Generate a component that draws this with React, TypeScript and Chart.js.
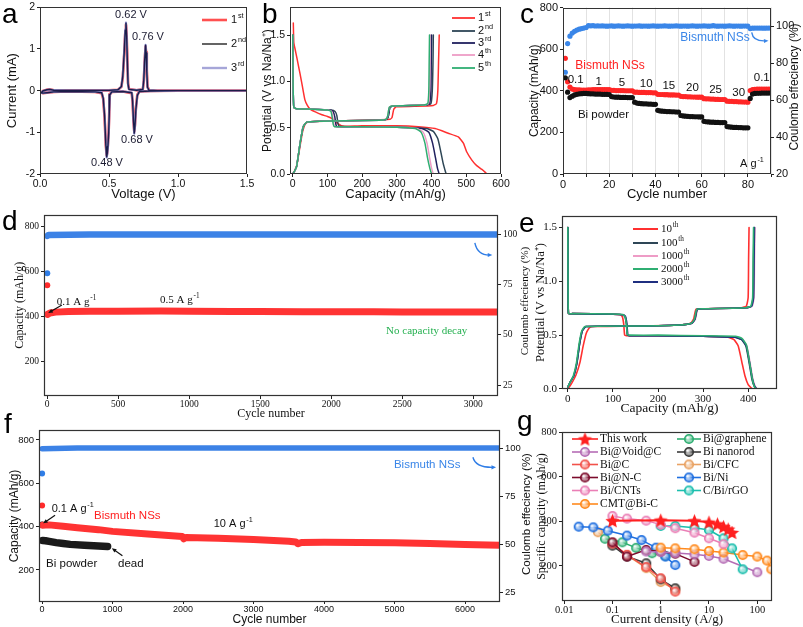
import React, { useEffect, useRef } from "react";
import { Chart, registerables } from "chart.js";
Chart.register(...registerables);

const SANS = "Arial, 'Liberation Sans', sans-serif";
const SERIF = "'Times New Roman', 'Liberation Serif', serif";

// ---------------- Panel a : CV ----------------
const cvVoltage = [1.5, 1.0, 0.80, 0.72, 0.705, 0.695, 0.688, 0.683, 0.677, 0.671, 0.665, 0.60, 0.52, 0.506, 0.502, 0.498, 0.492, 0.487, 0.483, 0.477, 0.468, 0.458, 0.447, 0.40, 0.20, 0.10, 0.05, 0.02, 0.01, 0.02, 0.05, 0.07, 0.10, 0.20, 0.50, 0.565, 0.59, 0.60, 0.61, 0.618, 0.623, 0.628, 0.633, 0.638, 0.645, 0.70, 0.745, 0.752, 0.758, 0.765, 0.769, 0.774, 0.779, 0.79, 0.85, 1.5];
const cvCurrent1st = [0, 0, -0.01, -0.02, -0.1, -0.42, -0.82, -0.98, -0.72, -0.28, -0.06, -0.02, -0.03, -0.09, -0.5, -0.95, -1.3, -1.49, -1.55, -1.32, -0.65, -0.2, -0.06, -0.03, -0.02, -0.03, -0.05, -0.06, -0.05, -0.01, 0.02, 0.03, 0.01, 0.005, 0.005, 0.02, 0.09, 0.32, 0.85, 1.4, 1.58, 1.32, 0.75, 0.18, 0.04, 0.01, 0.03, 0.22, 0.66, 1.06, 0.92, 0.5, 0.1, 0.01, 0, 0];
const cvCurrent2nd = [0, 0, -0.01, -0.02, -0.12, -0.45, -0.85, -1.02, -0.7, -0.25, -0.05, -0.02, -0.03, -0.1, -0.55, -1.0, -1.35, -1.52, -1.59, -1.3, -0.6, -0.18, -0.05, -0.03, -0.02, -0.03, -0.05, -0.06, -0.05, -0.01, 0.02, 0.03, 0.01, 0.005, 0.005, 0.02, 0.1, 0.35, 0.9, 1.45, 1.62, 1.3, 0.7, 0.15, 0.03, 0.01, 0.03, 0.25, 0.7, 1.09, 0.9, 0.45, 0.08, 0.01, 0, 0];
const cvCurrent3rd = [0, 0, -0.01, -0.02, -0.12, -0.46, -0.87, -1.03, -0.69, -0.24, -0.05, -0.02, -0.03, -0.1, -0.56, -1.02, -1.37, -1.54, -1.6, -1.28, -0.58, -0.17, -0.05, -0.03, -0.02, -0.03, -0.05, -0.06, -0.05, -0.01, 0.02, 0.03, 0.01, 0.005, 0.005, 0.02, 0.1, 0.36, 0.92, 1.47, 1.63, 1.29, 0.68, 0.14, 0.03, 0.01, 0.03, 0.26, 0.72, 1.1, 0.9, 0.44, 0.07, 0.01, 0, 0];
const aXTicks = [0, 0.5, 1.0, 1.5];
const aYTicks = [-2, -1, 0, 1, 2];

// ---------------- Panel b : GCD first 5 cycles ----------------
const b1Discharge = [[1.5, 1.63], [3, 1.42], [6, 1.36], [12, 1.25], [21, 1.08], [28, 0.94], [35, 0.8], [42, 0.74], [50, 0.7], [65, 0.67], [84, 0.64], [100, 0.62], [112, 0.6], [122, 0.57], [131, 0.54], [140, 0.52], [150, 0.515], [200, 0.52], [300, 0.52], [362, 0.51], [410, 0.49], [448, 0.44], [477, 0.4], [492, 0.33], [501, 0.24], [516, 0.15], [530, 0.09], [545, 0.05], [554, 0.02], [559, 0]];
const b1Charge = [[0, 0], [6, 0.04], [12, 0.1], [20, 0.28], [29, 0.47], [38, 0.55], [50, 0.565], [100, 0.57], [150, 0.575], [250, 0.585], [280, 0.59], [286, 0.61], [291, 0.7], [298, 0.725], [350, 0.73], [405, 0.74], [414, 0.76], [418, 0.9], [420, 1.2], [422, 1.5]];
const b2Discharge = [[0, 1.5], [1, 0.95], [3, 0.72], [10, 0.705], [60, 0.7], [110, 0.69], [122, 0.675], [127, 0.63], [130, 0.55], [134, 0.515], [200, 0.51], [300, 0.505], [385, 0.49], [405, 0.46], [418, 0.38], [426, 0.25], [433, 0.12], [438, 0.05], [442, 0]];
const b2Charge = [[0, 0], [5, 0.03], [11, 0.08], [21, 0.33], [30, 0.51], [40, 0.56], [80, 0.57], [150, 0.575], [250, 0.58], [270, 0.59], [275, 0.62], [280, 0.72], [288, 0.735], [385, 0.745], [398, 0.76], [402, 0.9], [404, 1.2], [405, 1.5]];
const b3Discharge = [[0, 1.5], [1, 0.95], [3, 0.72], [10, 0.705], [60, 0.7], [105, 0.69], [116, 0.675], [121, 0.62], [124, 0.54], [127, 0.51], [200, 0.51], [300, 0.505], [372, 0.49], [392, 0.45], [403, 0.33], [411, 0.18], [417, 0.06], [422, 0]];
const b3Charge = [[0, 0], [5, 0.03], [11, 0.08], [21, 0.33], [30, 0.51], [40, 0.56], [80, 0.57], [150, 0.575], [250, 0.58], [270, 0.59], [275, 0.62], [280, 0.72], [288, 0.735], [382, 0.745], [394, 0.76], [398, 0.9], [399, 1.2], [400, 1.5]];
const b4Discharge = [[0, 1.5], [1, 0.95], [3, 0.72], [10, 0.705], [60, 0.7], [102, 0.69], [112, 0.675], [116, 0.6], [119, 0.53], [122, 0.51], [200, 0.51], [300, 0.505], [358, 0.49], [376, 0.45], [387, 0.33], [394, 0.18], [400, 0.06], [405, 0]];
const b4Charge = [[0, 0], [5, 0.03], [11, 0.08], [21, 0.33], [30, 0.51], [40, 0.56], [80, 0.57], [150, 0.575], [250, 0.58], [268, 0.59], [273, 0.62], [278, 0.72], [286, 0.735], [380, 0.745], [391, 0.76], [394, 0.9], [395, 1.2], [396, 1.5]];
const b5Discharge = [[0, 1.5], [1, 0.95], [3, 0.72], [10, 0.705], [60, 0.7], [100, 0.69], [110, 0.675], [114, 0.6], [117, 0.53], [120, 0.51], [200, 0.51], [300, 0.505], [353, 0.49], [370, 0.45], [381, 0.33], [388, 0.18], [395, 0.06], [400, 0]];
const b5Charge = [[0, 0], [5, 0.03], [11, 0.08], [21, 0.33], [30, 0.51], [40, 0.56], [80, 0.57], [150, 0.575], [250, 0.58], [268, 0.59], [273, 0.62], [278, 0.72], [286, 0.735], [378, 0.745], [389, 0.76], [392, 0.9], [393, 1.2], [394, 1.5]];
const bXTicks = [0, 100, 200, 300, 400, 500, 600];
const bYTicks = [0, 0.5, 1.0, 1.5];

// ---------------- Panel c : rate ----------------
const cBismuthCapacity = [556, 443, 418, 408, 405, 404, 404, 403, 403, 403, 404, 404, 405, 405, 405, 406, 406, 406, 406, 406, 402, 402, 401, 401, 401, 401, 400, 400, 400, 400, 393, 393, 392, 392, 392, 391, 391, 391, 390, 390, 383, 382, 382, 381, 381, 380, 380, 380, 379, 379, 373, 372, 372, 371, 371, 370, 370, 369, 369, 369, 362, 361, 361, 360, 360, 359, 359, 358, 358, 358, 350, 349, 349, 348, 348, 347, 347, 346, 346, 345, 401, 405, 407, 408, 408, 408, 408, 408, 408, 408];
const cPowderCapacity = [462, 393, 367, 374, 380, 383, 385, 386, 387, 387, 386, 385, 385, 384, 384, 384, 383, 383, 383, 382, 372, 370, 369, 369, 368, 368, 368, 367, 367, 367, 345, 341, 339, 338, 337, 337, 336, 336, 335, 335, 306, 303, 302, 301, 300, 300, 299, 299, 298, 298, 281, 279, 278, 277, 276, 276, 275, 275, 274, 274, 253, 251, 250, 249, 249, 248, 248, 247, 247, 247, 228, 226, 225, 224, 224, 223, 223, 222, 222, 222, 363, 384, 387, 388, 388, 389, 389, 389, 389, 389];
const cBismuthCE = [75, 90.5, 94.5, 96.2, 97.1, 97.8, 98.3, 98.6, 98.9, 99.2, 100.2, 100.1, 100.2, 100.0, 100.1, 100.0, 100.1, 100.0, 99.9, 100.0, 100.1, 99.9, 100.0, 100.1, 100.0, 99.9, 100.0, 100.1, 100.0, 99.9, 100.0, 100.0, 100.1, 99.9, 100.0, 100.0, 99.9, 100.0, 100.1, 100.0, 99.9, 100.0, 100.0, 100.1, 100.0, 99.9, 100.0, 100.0, 100.1, 100.0, 99.9, 100.0, 100.0, 99.9, 100.0, 100.1, 100.0, 99.9, 100.0, 100.0, 100.1, 100.0, 99.9, 100.0, 100.2, 100.0, 99.9, 100.0, 100.0, 99.9, 100.0, 100.1, 100.0, 99.9, 100.0, 100.0, 99.9, 100.0, 100.0, 99.9, 98.6, 98.8, 98.9, 98.9, 98.9, 98.9, 98.8, 98.9, 98.9, 98.9];
const cXTicks = [0, 10, 20, 30, 40, 50, 60, 70, 80, 90];
const cYTicks = [0, 200, 400, 600, 800];
const cY2Ticks = [20, 40, 60, 80, 100];
const cRateLabels = ["0.1", "1", "5", "10", "15", "20", "25", "30", "0.1"];

// ---------------- Panel d : 0.5 A/g cycling ----------------
const dCapacityBand = [[3, 410], [20, 416], [60, 420], [150, 423], [300, 424], [500, 424], [800, 425], [1000, 424], [1300, 423], [1500, 423], [1800, 422], [2000, 422], [2300, 422], [2500, 421], [2800, 421], [3000, 421], [3172, 421]];
const dCEBand = [[2, 99.4], [10, 99.8], [300, 100], [800, 100], [1500, 100], [2200, 100], [3000, 100], [3172, 100]];
const dFirstCapacity = [[1, 539]];
const dFirstCE = [[1, 80.8]];
const dXTicks = [0, 500, 1000, 1500, 2000, 2500, 3000];
const dYTicks = [200, 400, 600, 800];
const dY2Ticks = [25, 50, 75, 100];

// ---------------- Panel e : GCD at cycles ----------------
const e10Discharge = [[0, 1.5], [0.5, 0.9], [1.5, 0.7], [10, 0.7], [100, 0.695], [116, 0.69], [121, 0.67], [124, 0.6], [126, 0.5], [130, 0.495], [200, 0.495], [300, 0.49], [355, 0.48], [368, 0.46], [378, 0.4], [386, 0.25], [393, 0.12], [400, 0.04], [409, 0]];
const e10Charge = [[0, 0], [8, 0.05], [18, 0.13], [27, 0.25], [34, 0.4], [41, 0.52], [48, 0.57], [60, 0.58], [150, 0.585], [250, 0.595], [272, 0.61], [279, 0.65], [284, 0.74], [295, 0.745], [385, 0.755], [396, 0.77], [400, 0.85], [401, 1.2], [402, 1.5]];
const e100Discharge = [[0, 1.5], [0.5, 0.9], [1.5, 0.7], [10, 0.7], [100, 0.695], [122, 0.69], [127, 0.67], [130, 0.6], [132, 0.5], [136, 0.495], [200, 0.495], [300, 0.49], [370, 0.48], [385, 0.46], [395, 0.4], [402, 0.25], [408, 0.1], [413, 0.03], [418, 0]];
const e100Charge = [[0, 0.02], [6, 0.07], [13, 0.12], [20, 0.24], [26, 0.42], [32, 0.54], [40, 0.58], [150, 0.585], [250, 0.595], [275, 0.61], [282, 0.65], [287, 0.74], [300, 0.745], [395, 0.755], [407, 0.77], [411, 0.85], [412, 1.2], [413, 1.5]];
const e1000Discharge = [[0, 1.5], [0.5, 0.9], [1.5, 0.7], [10, 0.7], [100, 0.695], [123, 0.69], [128, 0.67], [131, 0.6], [133, 0.5], [137, 0.495], [200, 0.495], [300, 0.49], [372, 0.48], [387, 0.46], [397, 0.4], [404, 0.25], [410, 0.1], [415, 0.03], [420, 0]];
const e1000Charge = [[0, 0.02], [6, 0.07], [13, 0.12], [20, 0.24], [26, 0.42], [32, 0.54], [40, 0.58], [150, 0.585], [250, 0.595], [276, 0.61], [283, 0.65], [288, 0.74], [300, 0.745], [397, 0.755], [409, 0.77], [413, 0.85], [414, 1.2], [415, 1.5]];
const e2000Discharge = [[0, 1.5], [0.5, 0.9], [1.5, 0.7], [10, 0.7], [100, 0.697], [122, 0.692], [127, 0.672], [130, 0.6], [132, 0.505], [136, 0.5], [200, 0.5], [300, 0.495], [372, 0.49], [386, 0.47], [396, 0.41], [403, 0.25], [409, 0.1], [413, 0.03], [417, 0]];
const e2000Charge = [[0, 0.02], [6, 0.07], [12, 0.12], [19, 0.24], [25, 0.42], [31, 0.54], [38, 0.58], [150, 0.585], [250, 0.595], [274, 0.61], [281, 0.65], [286, 0.74], [300, 0.745], [394, 0.755], [406, 0.77], [410, 0.85], [411, 1.2], [412, 1.5]];
const e3000Discharge = [[0, 1.5], [0.5, 0.9], [1.5, 0.7], [10, 0.7], [100, 0.695], [123, 0.69], [128, 0.67], [131, 0.6], [133, 0.5], [137, 0.495], [200, 0.495], [300, 0.49], [371, 0.48], [386, 0.46], [396, 0.4], [403, 0.25], [409, 0.1], [414, 0.03], [419, 0]];
const e3000Charge = [[0, 0.02], [6, 0.07], [13, 0.12], [20, 0.24], [26, 0.42], [32, 0.54], [40, 0.58], [150, 0.585], [250, 0.595], [275, 0.61], [282, 0.65], [287, 0.74], [300, 0.745], [396, 0.755], [408, 0.77], [412, 0.85], [413, 1.2], [414, 1.5]];
const eXTicks = [0, 100, 200, 300, 400];
const eYTicks = [0, 0.5, 1.0, 1.5];

// ---------------- Panel f : 10 A/g cycling ----------------
const fNSsCapacityBand = [[5, 406], [100, 408], [300, 402], [500, 395], [800, 386], [1000, 378], [1500, 366], [1990, 354], [2010, 344], [2040, 350], [2200, 349], [2500, 346], [3000, 340], [3500, 332], [3600, 329], [3630, 321], [3680, 327], [4000, 328], [4500, 327], [5000, 325], [5500, 322], [6000, 318], [6490, 314]];
const fNSsCEBand = [[2, 99.6], [500, 100], [1500, 100], [2500, 100], [3500, 100], [4500, 100], [5500, 100], [6490, 100]];
const fPowderBand = [[10, 336], [50, 335], [100, 332], [200, 326], [300, 322], [400, 318], [600, 314], [800, 311], [930, 308]];
const fFirstNSsCapacity = [[1, 498]];
const fFirstNSsCE = [[1, 86.7]];
const fFirstPowderCapacity = [[1, 410]];
const fXTicks = [0, 1000, 2000, 3000, 4000, 5000, 6000];
const fYTicks = [200, 400, 600, 800];
const fY2Ticks = [25, 50, 75, 100];

// ---------------- Panel g : comparison ----------------
const gThisWork = [[0.1, 403], [1, 405], [5, 402], [10, 396], [15, 388], [20, 376], [25, 365], [30, 350]];
const gBiVoidC = [[0.5, 265], [1, 262], [2, 258], [5, 252], [10, 245], [20, 232], [100, 172]];
const gBiC = [[0.1, 300], [0.2, 250], [0.5, 195], [1, 145], [2, 85]];
const gBiNC = [[0.1, 306], [0.2, 242], [0.5, 272], [1, 265], [2, 255], [5, 218]];
const gBiCNTs = [[0.1, 424], [0.2, 412], [0.5, 403], [1, 385], [2, 369], [5, 349], [10, 324], [20, 298]];
const gCMTBiC = [[1, 282], [2, 279], [5, 275], [10, 267], [20, 260], [50, 249], [100, 242], [160, 224], [196, 185]];
const gBiGraphene = [[0.07, 322], [0.16, 306], [0.31, 281], [0.66, 257], [1.25, 245]];
const gBiNanorod = [[0.1, 291], [0.2, 242], [0.5, 212], [1, 140], [2, 100]];
const gBiCFC = [[0.05, 351], [0.1, 300], [0.2, 248], [0.5, 190], [1, 128], [2, 95]];
const gBiNi = [[0.02, 376], [0.04, 373], [0.08, 358], [0.2, 336], [0.4, 316], [0.8, 282], [1.25, 242], [2, 204]];
const gCBirGO = [[1, 379], [2, 379], [5, 371], [10, 361], [20, 324], [30, 279], [50, 185]];
const gXTicks = [0.01, 0.1, 1, 10, 100];
const gYTicks = [200, 400, 600, 800];

// ---------------- helpers ----------------
type Rect = { x: number; y: number; w: number; h: number };
type Box = { l: number; t: number; r: number; b: number };

const toXY = (p: number[][]) => p.map(([x, y]) => ({ x, y }));
const zip = (xs: number[], ys: number[]) => xs.map((x, i) => ({ x, y: ys[i] }));

function frame(rect: Rect, plot: Box, leftTitleX: number, bottomTitleY: number, ls: number, bs: number) {
  const padLeft = Math.max(0, leftTitleX - rect.x - 0.6 * ls);
  const padBottom = Math.max(0, rect.y + rect.h - bottomTitleY - 0.6 * bs);
  return {
    padding: { left: padLeft, right: 0, top: 0, bottom: padBottom },
    leftW: plot.l - rect.x - padLeft,
    rightW: rect.x + rect.w - plot.r,
    topH: plot.t - rect.y,
    bottomH: rect.y + rect.h - padBottom - plot.b,
  };
}

function axis(o: any) {
  return {
    type: o.log ? "logarithmic" : "linear",
    position: o.position,
    axis: o.position === "bottom" || o.position === "top" ? "x" : "y",
    min: o.min,
    max: o.max,
    afterBuildTicks: (s: any) => {
      s.ticks = o.ticks.map((v: number) => ({ value: v }));
    },
    afterFit: (s: any) => {
      if (o.position === "bottom") s.height = o.size;
      else s.width = o.size;
    },
    ticks: {
      font: { family: o.family, size: o.tickSize, lineHeight: 1 },
      color: "#111",
      padding: o.tickPad ?? 2,
      maxRotation: 0,
      autoSkip: false,
      callback: (v: number) => (o.fmt ? o.fmt(v) : String(v)),
    },
    grid: {
      drawOnChartArea: !!o.grid,
      color: o.grid || "#222",
      drawTicks: true,
      tickLength: o.tickLen ?? 3,
      tickColor: "#222",
      tickWidth: 1,
    },
    border: { display: false },
    title: o.title
      ? { display: true, text: o.title, font: { family: o.family, size: o.titleSize, lineHeight: 1.2 }, color: "#111", padding: 0 }
      : { display: false },
  };
}

function dummy(ax: string, position: string, size: number) {
  return {
    type: "linear",
    axis: ax,
    position,
    min: 0,
    max: 1,
    display: true,
    ticks: { display: false },
    grid: { display: false, drawTicks: false },
    border: { display: false },
    title: { display: false },
    afterFit: (s: any) => {
      if (ax === "x") s.height = size;
      else s.width = size;
    },
  };
}

function baseOptions(L: any, scales: any) {
  const sc: any = { ...scales, xTop: dummy("x", "top", L.topH) };
  if (!scales.y2) sc.yRight = dummy("y", "right", L.rightW);
  return {
    responsive: false,
    animation: false,
    events: [],
    layout: { padding: L.padding },
    plugins: { legend: { display: false }, tooltip: { enabled: false } },
    scales: sc,
  };
}

function lineDs(data: any[], color: string, width: number, extra: any = {}) {
  return {
    data,
    showLine: true,
    borderColor: color,
    backgroundColor: color,
    borderWidth: width,
    pointRadius: 0,
    fill: false,
    tension: 0,
    borderJoinStyle: "round",
    borderCapStyle: "round",
    ...extra,
  };
}

function dotDs(data: any[], color: string, r: number, extra: any = {}) {
  return {
    data,
    showLine: false,
    pointRadius: r,
    pointBackgroundColor: color,
    pointBorderColor: color,
    pointBorderWidth: 0,
    ...extra,
  };
}

function rich(ctx: any, x: number, y: number, text: string, sup: string | undefined, family: string, size: number, color: string, align: string) {
  ctx.fillStyle = color;
  ctx.textBaseline = "middle";
  ctx.textAlign = "left";
  ctx.font = `${size}px ${family}`;
  const w1 = ctx.measureText(text).width;
  const ss = size * 0.66;
  let w2 = 0;
  if (sup) {
    ctx.font = `${ss}px ${family}`;
    w2 = ctx.measureText(sup).width + 0.8;
  }
  const tot = w1 + w2;
  const x0 = align === "center" ? x - tot / 2 : align === "right" ? x - tot : x;
  ctx.font = `${size}px ${family}`;
  ctx.fillText(text, x0, y);
  if (sup) {
    ctx.font = `${ss}px ${family}`;
    ctx.fillText(sup, x0 + w1 + 0.8, y - size * 0.36);
  }
}

function arrow(ctx: any, x1: number, y1: number, x2: number, y2: number, cx: number | null, cy: number | null, color: string, width: number, head: number) {
  ctx.strokeStyle = color;
  ctx.fillStyle = color;
  ctx.lineWidth = width;
  const ang = Math.atan2(y2 - (cy ?? y1), x2 - (cx ?? x1));
  const ex = x2 - Math.cos(ang) * head * 0.6;
  const ey = y2 - Math.sin(ang) * head * 0.6;
  ctx.beginPath();
  ctx.moveTo(x1, y1);
  if (cx != null && cy != null) ctx.quadraticCurveTo(cx, cy, ex, ey);
  else ctx.lineTo(ex, ey);
  ctx.stroke();
  ctx.beginPath();
  ctx.moveTo(x2, y2);
  ctx.lineTo(x2 - head * Math.cos(ang - 0.42), y2 - head * Math.sin(ang - 0.42));
  ctx.lineTo(x2 - head * Math.cos(ang + 0.42), y2 - head * Math.sin(ang + 0.42));
  ctx.closePath();
  ctx.fill();
}

function deco(rect: Rect, spec: any) {
  return {
    id: "deco",
    afterDraw(chart: any) {
      const ctx = chart.ctx;
      const P = (x: number, y: number, px?: boolean, ys?: string) =>
        px ? [x - rect.x, y - rect.y] : [chart.scales.x.getPixelForValue(x), chart.scales[ys || "y"].getPixelForValue(y)];
      ctx.save();
      if (spec.frame) {
        const a = chart.chartArea;
        ctx.strokeStyle = spec.frame.color;
        ctx.lineWidth = spec.frame.width;
        const l = Math.round(a.left) + 0.5, t = Math.round(a.top) + 0.5;
        const r = Math.round(a.right) - 0.5, b = Math.round(a.bottom) - 0.5;
        ctx.strokeRect(l, t, r - l, b - t);
      }
      for (const ar of spec.arrows || []) {
        const [x1, y1] = P(ar.x1, ar.y1, ar.px, ar.ys);
        const [x2, y2] = P(ar.x2, ar.y2, ar.px, ar.ys);
        let cx = null, cy = null;
        if (ar.cx != null) [cx, cy] = P(ar.cx, ar.cy, ar.px, ar.ys);
        arrow(ctx, x1, y1, x2, y2, cx, cy, ar.color, ar.width, ar.head);
      }
      for (const t of spec.texts || []) {
        const [x, y] = P(t.x, t.y, t.px, t.ys);
        ctx.save();
        ctx.translate(x, y);
        if (t.rot) ctx.rotate((t.rot * Math.PI) / 180);
        rich(ctx, 0, 0, t.text, t.sup, t.font, t.size, t.color || "#111", t.align || "center");
        ctx.restore();
      }
      for (const g of spec.legend || []) {
        const y = g.y - rect.y;
        ctx.strokeStyle = g.color;
        ctx.lineWidth = g.width || 2;
        ctx.beginPath();
        ctx.moveTo(g.x1 - rect.x, y);
        ctx.lineTo(g.x2 - rect.x, y);
        ctx.stroke();
        if (g.img) ctx.drawImage(g.img, (g.x1 + g.x2) / 2 - rect.x - g.img.width / 2, y - g.img.height / 2);
        rich(ctx, g.tx - rect.x, y, g.label, g.sup, g.font, g.size, g.textColor || "#111", "left");
      }
      ctx.restore();
    },
  };
}

function hexRgb(h: string) {
  const n = parseInt(h.slice(1), 16);
  return [(n >> 16) & 255, (n >> 8) & 255, n & 255];
}
function ringImg(color: string, r: number) {
  const s = Math.ceil(2 * r + 3);
  const c = document.createElement("canvas");
  c.width = s;
  c.height = s;
  const g = c.getContext("2d") as CanvasRenderingContext2D;
  const m = s / 2;
  const [R, G, B] = hexRgb(color);
  const grad = g.createRadialGradient(m - r * 0.35, m - r * 0.35, 0.5, m, m, r);
  grad.addColorStop(0, "rgba(255,255,255,1)");
  grad.addColorStop(1, `rgba(${R},${G},${B},0.6)`);
  g.fillStyle = grad;
  g.beginPath();
  g.arc(m, m, r, 0, Math.PI * 2);
  g.fill();
  g.strokeStyle = color;
  g.lineWidth = 1.6;
  g.stroke();
  return c;
}
function starImg(color: string, r: number) {
  const s = Math.ceil(2 * r + 2);
  const c = document.createElement("canvas");
  c.width = s;
  c.height = s;
  const g = c.getContext("2d") as CanvasRenderingContext2D;
  const m = s / 2;
  g.beginPath();
  for (let i = 0; i < 10; i++) {
    const rad = i % 2 === 0 ? r : r * 0.45;
    const a = -Math.PI / 2 + (i * Math.PI) / 5;
    g.lineTo(m + rad * Math.cos(a), m + rad * Math.sin(a) + 0.8);
  }
  g.closePath();
  g.fillStyle = color;
  g.fill();
  return c;
}

const fix1 = (v: number) => v.toFixed(1);

// ---------------- panel configs ----------------
const RA: Rect = { x: 0, y: 0, w: 258, h: 203 };
const RB: Rect = { x: 258, y: 0, w: 268, h: 203 };
const RC: Rect = { x: 526, y: 0, w: 277, h: 203 };
const RD: Rect = { x: 0, y: 203, w: 533, h: 219 };
const RE: Rect = { x: 533, y: 203, w: 270, h: 219 };
const RF: Rect = { x: 0, y: 422, w: 533, h: 205 };
const RG: Rect = { x: 533, y: 422, w: 270, h: 205 };

const C1 = "#ff3030";
const C2 = "#2e4656";
const C3 = "#20205e";
const C4 = "#ee9cc6";
const C5 = "#2fae72";

function buildA() {
  const L = frame(RA, { l: 40, t: 7, r: 247, b: 174 }, 12, 194, 13, 13);
  const lg = (label: string, sup: string, y: number, color: string, w: number) => ({ label, sup, y, x1: 202, x2: 227, tx: 231, color, width: w, font: SANS, size: 11 });
  return {
    type: "scatter",
    data: {
      datasets: [
        lineDs(zip(cvVoltage, cvCurrent2nd), "#1c1c48", 1.4),
        lineDs(zip(cvVoltage, cvCurrent3rd), "#8e8ecc", 2.2),
        lineDs(zip(cvVoltage, cvCurrent1st), "#ff4040", 2.6),
      ],
    },
    options: baseOptions(L, {
      x: axis({ position: "bottom", min: 0, max: 1.5, ticks: aXTicks, fmt: fix1, family: SANS, tickSize: 10.5, title: "Voltage (V)", titleSize: 13, size: L.bottomH }),
      y: axis({ position: "left", min: -2, max: 2, ticks: aYTicks, family: SANS, tickSize: 10.5, title: "Current (mA)", titleSize: 13, size: L.leftW }),
    }),
    plugins: [
      deco(RA, {
        frame: { color: "#333", width: 1 },
        texts: [
          { text: "0.62 V", x: 131, y: 15, px: true, font: SANS, size: 11, color: "#1a1a30" },
          { text: "0.76 V", x: 148, y: 37, px: true, font: SANS, size: 11, color: "#1a1a30" },
          { text: "0.68 V", x: 137, y: 140, px: true, font: SANS, size: 11, color: "#1a1a30" },
          { text: "0.48 V", x: 107, y: 163, px: true, font: SANS, size: 11, color: "#1a1a30" },
        ],
        legend: [lg("1", "st", 20, "#ff5050", 2.6), lg("2", "nd", 44, "#222", 1.4), lg("3", "rd", 68, "#a6a6d8", 2.4)],
      }),
    ],
  };
}

function buildB() {
  const L = frame(RB, { l: 290, t: 6, r: 501, b: 174 }, 268, 194, 12, 13);
  const ds: any[] = [];
  const curves: [number[][], number[][], string][] = [
    [b5Discharge, b5Charge, C5],
    [b4Discharge, b4Charge, C4],
    [b3Discharge, b3Charge, C3],
    [b2Discharge, b2Charge, C2],
    [b1Discharge, b1Charge, C1],
  ];
  for (const [d, c, col] of curves) {
    ds.push(lineDs(toXY(d), col, 1.5, { tension: 0.15 }));
    ds.push(lineDs(toXY(c), col, 1.5, { tension: 0.15 }));
  }
  const lg = (label: string, sup: string, y: number, color: string) => ({ label, sup, y, x1: 452, x2: 475, tx: 478, color, width: 1.8, font: SANS, size: 11 });
  return {
    type: "scatter",
    data: { datasets: ds },
    options: baseOptions(L, {
      x: axis({ position: "bottom", min: -8, max: 600, ticks: bXTicks, family: SANS, tickSize: 10.5, title: "Capacity (mAh/g)", titleSize: 13, size: L.bottomH }),
      y: axis({ position: "left", min: 0, max: 1.8, ticks: bYTicks, fmt: fix1, family: SANS, tickSize: 10.5, title: "Potential (V vs Na/Na\u207A)", titleSize: 12, size: L.leftW }),
    }),
    plugins: [
      deco(RB, {
        frame: { color: "#333", width: 1 },
        legend: [lg("1", "st", 18, C1), lg("2", "nd", 31, C2), lg("3", "rd", 43, C3), lg("4", "th", 55, C4), lg("5", "th", 68, C5)],
      }),
    ],
  };
}

function buildC() {
  const L = frame(RC, { l: 563, t: 6, r: 771, b: 174 }, 535, 194, 12, 13);
  const cyc = (arr: number[]) => arr.map((v, i) => ({ x: i + 1, y: v }));
  const rateX = [5.5, 15.5, 25.5, 36, 45.8, 56, 66, 76, 86];
  const rateY = [452, 443, 438, 433, 424, 414, 405, 390, 462];
  const texts: any[] = cRateLabels.map((t, i) => ({ text: t, x: rateX[i], y: rateY[i], font: SANS, size: 11.5 }));
  texts.push(
    { text: "Bismuth NSs", x: 715, y: 38, px: true, font: SANS, size: 12, color: "#3a86e8" },
    { text: "Bismuth NSs", x: 610, y: 66, px: true, font: SANS, size: 12, color: "#ff2020" },
    { text: "Bi powder", x: 603.5, y: 115, px: true, font: SANS, size: 11.5 },
    { text: "A g", sup: "-1", x: 752, y: 164, px: true, font: SANS, size: 11 },
    { text: "Coulomb effeciency (%)", x: 795, y: 87, px: true, rot: -90, font: SANS, size: 12 }
  );
  return {
    type: "scatter",
    data: {
      datasets: [
        dotDs(cyc(cPowderCapacity), "#111111", 2.6),
        dotDs(cyc(cBismuthCapacity), "#ff2626", 2.6),
        dotDs(cyc(cBismuthCE), "#3a86e8", 2.6, { yAxisID: "y2" }),
      ],
    },
    options: baseOptions(L, {
      x: axis({
        position: "bottom", min: 0, max: 90, ticks: cXTicks, grid: "#e2e2e2",
        fmt: (v: number) => (v % 20 === 0 && v <= 80 ? String(v) : ""),
        family: SANS, tickSize: 11, title: "Cycle number", titleSize: 13, size: L.bottomH,
      }),
      y: axis({ position: "left", min: 0, max: 800, ticks: cYTicks, family: SANS, tickSize: 11, title: "Capacity (mAh/g)", titleSize: 12, size: L.leftW }),
      y2: axis({ position: "right", min: 20, max: 110, ticks: cY2Ticks, family: SANS, tickSize: 11, size: L.rightW }),
    }),
    plugins: [
      deco(RC, {
        frame: { color: "#333", width: 1 },
        texts,
        arrows: [{ x1: 751.7, y1: 32.3, cx: 753, cy: 41.5, x2: 768.5, y2: 40.7, px: true, color: "#3a86e8", width: 1.4, head: 5 }],
      }),
    ],
  };
}

function buildD() {
  const L = frame(RD, { l: 44, t: 214.5, r: 498, b: 396 }, 20, 414, 12, 12);
  return {
    type: "scatter",
    data: {
      datasets: [
        lineDs(toXY(dCapacityBand), "#ff3333", 7),
        lineDs(toXY(dCEBand), "#3c82e6", 6.5, { yAxisID: "y2" }),
        dotDs(toXY(dFirstCapacity), "#ff2a2a", 3),
        dotDs(toXY(dFirstCE), "#2f7de6", 3, { yAxisID: "y2" }),
      ],
    },
    options: baseOptions(L, {
      x: axis({ position: "bottom", min: -22, max: 3175, ticks: dXTicks, family: SERIF, tickSize: 9.5, tickPad: 1, title: "Cycle number", titleSize: 12, size: L.bottomH }),
      y: axis({ position: "left", min: 48, max: 853, ticks: dYTicks, family: SERIF, tickSize: 9.5, title: "Capacity (mAh/g)", titleSize: 12, size: L.leftW }),
      y2: axis({ position: "right", min: 19.6, max: 110, ticks: dY2Ticks, family: SERIF, tickSize: 9.5, size: L.rightW }),
    }),
    plugins: [
      deco(RD, {
        frame: { color: "#333", width: 1.2 },
        texts: [
          { text: "0.1 A g", sup: "-1", x: 68, y: 464, align: "left", font: SERIF, size: 11 },
          { text: "0.5 A g", sup: "-1", x: 795, y: 472, align: "left", font: SERIF, size: 11 },
          { text: "No capacity decay", x: 2673, y: 337, font: SERIF, size: 11, color: "#25b050" },
          { text: "Coulomb effeciency (%)", x: 525, y: 301, px: true, rot: -90, font: SERIF, size: 11 },
        ],
        arrows: [
          { x1: 104, y1: 452, x2: 8, y2: 416, color: "#111", width: 1.2, head: 5 },
          { x1: 3012, y1: 727, cx: 3030, cy: 673, x2: 3135, y2: 673, color: "#2f7de6", width: 1.4, head: 5 },
        ],
      }),
    ],
  };
}

function buildE() {
  const L = frame(RE, { l: 562, t: 216, r: 777, b: 389 }, 540, 408, 12.5, 13.5);
  const ds: any[] = [];
  const curves: [number[][], number[][], string][] = [
    [e2000Discharge, e2000Charge, C5],
    [e3000Discharge, e3000Charge, "#1f2f80"],
    [e100Discharge, e100Charge, C2],
    [e1000Discharge, e1000Charge, C4],
    [e10Discharge, e10Charge, C1],
  ];
  for (const [d, c, col] of curves) {
    ds.push(lineDs(toXY(d), col, 1.6, { tension: 0.15 }));
    ds.push(lineDs(toXY(c), col, 1.6, { tension: 0.15 }));
  }
  const lg = (label: string, y: number, color: string) => ({ label, sup: "th", y, x1: 633, x2: 658, tx: 661, color, width: 2, font: SERIF, size: 11 });
  return {
    type: "scatter",
    data: { datasets: ds },
    options: baseOptions(L, {
      x: axis({ position: "bottom", min: -13, max: 464, ticks: eXTicks, family: SERIF, tickSize: 11, title: "Capacity (mAh/g)", titleSize: 13.5, size: L.bottomH }),
      y: axis({ position: "left", min: 0, max: 1.607, ticks: eYTicks, fmt: fix1, family: SERIF, tickSize: 11, title: "Potential (V vs Na/Na\u207A)", titleSize: 12.5, size: L.leftW }),
    }),
    plugins: [
      deco(RE, {
        frame: { color: "#333", width: 1.2 },
        legend: [lg("10", 229, C1), lg("100", 243, C2), lg("1000", 256, C4), lg("2000", 269, C5), lg("3000", 282, "#1f2f80")],
      }),
    ],
  };
}

function buildF() {
  const L = frame(RF, { l: 39, t: 430, r: 500, b: 602 }, 15, 621, 12, 12);
  return {
    type: "scatter",
    data: {
      datasets: [
        lineDs(toXY(fNSsCapacityBand), "#ff3333", 7),
        lineDs(toXY(fPowderBand), "#1a1a1a", 7.5),
        lineDs(toXY(fNSsCEBand), "#3c82e6", 5.5, { yAxisID: "y2" }),
        dotDs(toXY(fFirstNSsCapacity), "#ff2a2a", 3),
        dotDs(toXY(fFirstPowderCapacity), "#111", 3),
        dotDs(toXY(fFirstNSsCE), "#2f7de6", 3, { yAxisID: "y2" }),
      ],
    },
    options: baseOptions(L, {
      x: axis({ position: "bottom", min: -43, max: 6496, ticks: fXTicks, family: SANS, tickSize: 9, tickPad: 1, tickLen: 2, title: "Cycle number", titleSize: 12, size: L.bottomH }),
      y: axis({ position: "left", min: 52, max: 846, ticks: fYTicks, family: SANS, tickSize: 9.5, title: "Capacity (mAh/g)", titleSize: 12, size: L.leftW }),
      y2: axis({ position: "right", min: 19.8, max: 109.4, ticks: fY2Ticks, family: SANS, tickSize: 9.5, size: L.rightW }),
    }),
    plugins: [
      deco(RF, {
        frame: { color: "#333", width: 1.2 },
        texts: [
          { text: "0.1 A g", sup: "-1", x: 137, y: 482, align: "left", font: SANS, size: 11 },
          { text: "Bismuth NSs", x: 1210, y: 452, font: SANS, size: 11.5, color: "#ff2020" },
          { text: "10 A g", sup: "-1", x: 2712, y: 413, font: SANS, size: 11 },
          { text: "Bismuth NSs", x: 5463, y: 685, font: SANS, size: 11.5, color: "#3a86e8" },
          { text: "Bi powder", x: 420, y: 229, font: SANS, size: 11.5 },
          { text: "dead", x: 1259, y: 229, font: SANS, size: 11.5 },
          { text: "Coulomb effeciency (%)", x: 527, y: 514, px: true, rot: -90, font: SANS, size: 11.5 },
        ],
        arrows: [
          { x1: 185, y1: 452, x2: 15, y2: 415, color: "#111", width: 1.2, head: 5 },
          { x1: 1140, y1: 266, x2: 990, y2: 300, color: "#111", width: 1.2, head: 5 },
          { x1: 6112, y1: 720, cx: 6150, cy: 672, x2: 6440, y2: 674, color: "#2f7de6", width: 1.4, head: 5 },
        ],
      }),
    ],
  };
}

function buildG() {
  const L = frame(RG, { l: 562, t: 432, r: 772, b: 601 }, 542, 620, 12, 13);
  const series: [string, number[][], string][] = [
    ["Bi/CNTs", gBiCNTs, "#ea7fb6"],
    ["C/Bi/rGO", gCBirGO, "#1cbfae"],
    ["CMT@Bi-C", gCMTBiC, "#ff8a1e"],
    ["Bi@Void@C", gBiVoidC, "#b56db5"],
    ["Bi@N-C", gBiNC, "#7c0c2c"],
    ["Bi/Ni", gBiNi, "#1f6fe0"],
    ["Bi@graphene", gBiGraphene, "#2fae72"],
    ["Bi@C", gBiC, "#f2524a"],
    ["Bi nanorod", gBiNanorod, "#3a3a3a"],
    ["Bi/CFC", gBiCFC, "#e9a263"],
  ];
  const imgs: Record<string, HTMLCanvasElement> = {};
  const star = starImg("#ff2020", 7.5);
  const ds: any[] = [lineDs(toXY(gThisWork), "#ff2020", 2, { pointStyle: star, pointRadius: 7 })];
  series.forEach(([name, pts, col]) => {
    imgs[name] = ringImg(col, 4.3);
    ds.push(lineDs(toXY(pts), col, 1.5, { pointStyle: imgs[name], pointRadius: 5 }));
  });
  const col: Record<string, string> = {};
  series.forEach(([n, , c]) => (col[n] = c));
  const lg1 = (label: string, y: number, c: string, img: any) => ({ label, y, x1: 572, x2: 598, tx: 600, color: c, width: 1.6, img, font: SERIF, size: 11.5 });
  const lg2 = (label: string, y: number) => ({ label, y, x1: 677, x2: 701, tx: 703, color: col[label], width: 1.6, img: imgs[label], font: SERIF, size: 11.5 });
  return {
    type: "scatter",
    data: { datasets: ds },
    options: baseOptions(L, {
      x: axis({ position: "bottom", log: true, min: 0.009, max: 202, ticks: gXTicks, family: SERIF, tickSize: 10.5, tickPad: 1, title: "Current density (A/g)", titleSize: 13, size: L.bottomH }),
      y: axis({ position: "left", min: 43, max: 800, ticks: gYTicks, family: SERIF, tickSize: 10.5, title: "Specific capacity (mAh/g)", titleSize: 12, size: L.leftW }),
    }),
    plugins: [
      deco(RG, {
        frame: { color: "#333", width: 1.2 },
        legend: [
          lg1("This work", 439, "#ff2020", star),
          lg1("Bi@Void@C", 452, col["Bi@Void@C"], imgs["Bi@Void@C"]),
          lg1("Bi@C", 464.5, col["Bi@C"], imgs["Bi@C"]),
          lg1("Bi@N-C", 477.5, col["Bi@N-C"], imgs["Bi@N-C"]),
          lg1("Bi/CNTs", 490.5, col["Bi/CNTs"], imgs["Bi/CNTs"]),
          lg1("CMT@Bi-C", 504, col["CMT@Bi-C"], imgs["CMT@Bi-C"]),
          lg2("Bi@graphene", 439),
          lg2("Bi nanorod", 452),
          lg2("Bi/CFC", 464.5),
          lg2("Bi/Ni", 477.5),
          lg2("C/Bi/rGO", 490.5),
        ],
      }),
    ],
  };
}

function Panel({ rect, build }: { rect: Rect; build: () => any }) {
  const ref = useRef<HTMLCanvasElement>(null);
  useEffect(() => {
    const chart = new Chart(ref.current as HTMLCanvasElement, build());
    return () => chart.destroy();
  }, []);
  return (
    <div style={{ position: "absolute", left: rect.x, top: rect.y, width: rect.w, height: rect.h }}>
      <canvas ref={ref} width={rect.w} height={rect.h} style={{ display: "block" }} />
    </div>
  );
}

function Letter({ x, y, t }: { x: number; y: number; t: string }) {
  return (
    <div style={{ position: "absolute", left: x, top: y, fontFamily: SANS, fontSize: 28, lineHeight: 1, color: "#000", zIndex: 2 }}>{t}</div>
  );
}

export default function App() {
  return (
    <div style={{ position: "absolute", left: 0, top: 0, width: 803, height: 627, background: "#fff", overflow: "hidden" }}>
      <Panel rect={RA} build={buildA} />
      <Panel rect={RB} build={buildB} />
      <Panel rect={RC} build={buildC} />
      <Panel rect={RD} build={buildD} />
      <Panel rect={RE} build={buildE} />
      <Panel rect={RF} build={buildF} />
      <Panel rect={RG} build={buildG} />
      <Letter x={2} y={0} t="a" />
      <Letter x={262} y={0} t="b" />
      <Letter x={520} y={0} t="c" />
      <Letter x={2} y={207} t="d" />
      <Letter x={519} y={209} t="e" />
      <Letter x={4} y={410} t="f" />
      <Letter x={517} y={407} t="g" />
    </div>
  );
}
